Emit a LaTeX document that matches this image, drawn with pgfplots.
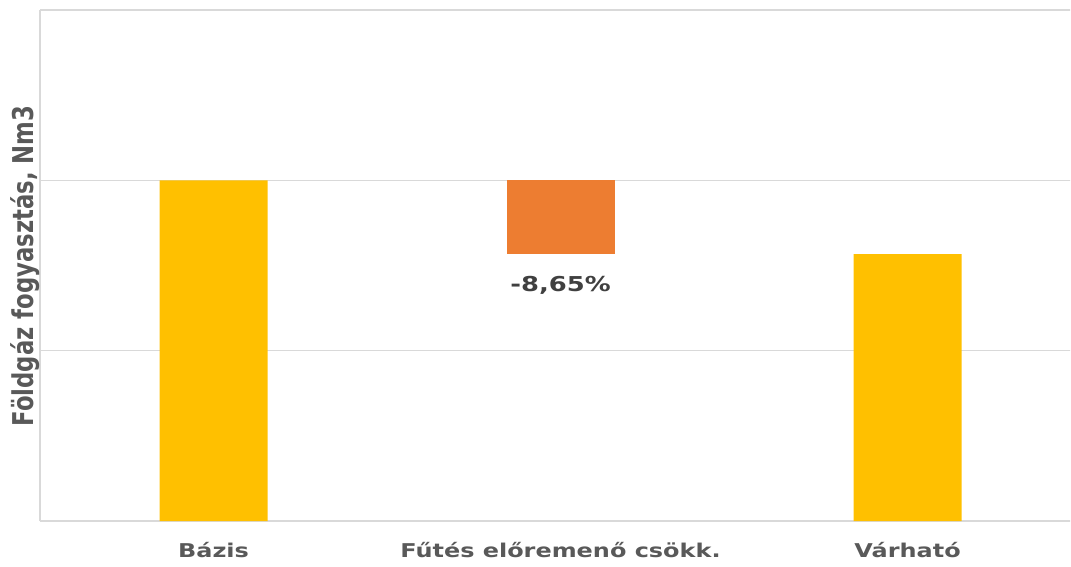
\documentclass[border=0pt]{standalone}
\usepackage{fontspec}
\setmainfont{DejaVu Sans}
\newfontfamily\widefont[FakeStretch=1.26]{DejaVu Sans}
\usepackage{graphicx}
\usepackage{pgfplots}
\pgfplotsset{compat=1.18}
\definecolor{barY}{HTML}{FFC000}
\definecolor{barO}{HTML}{ED7D31}
\definecolor{gridc}{HTML}{D9D9D9}
\definecolor{lab}{HTML}{595959}
\definecolor{dlab}{HTML}{404040}
\begin{document}
\begin{tikzpicture}[x=1pt,y=1pt]
\useasboundingbox (0,0) rectangle (1071,566);
\clip (0,0) rectangle (1070,566);
\begin{axis}[
  at={(40pt,45pt)}, anchor=south west,
  width=1040pt, height=511pt, scale only axis,
  xmin=-0.5, xmax=2.497, ymin=0, ymax=3,
  ybar stacked, bar width=108pt,
  xtick={0,1,2},
  xticklabels={Bázis, Fűtés előremenő csökk., Várható},
  xticklabel style={anchor=base, yshift=-36pt, font=\widefont\bfseries\fontsize{19}{22}\selectfont, text=lab},
  extra x ticks={-0.5}, extra x tick labels={},
  extra x tick style={xmajorgrids=true},
  ytick={0,1,2,3}, yticklabels={},
  ymajorgrids, grid style={gridc, line width=1.3pt},
  major tick length=0pt,
  axis line style={draw=none},
  clip=false,
]
\addplot[fill=barY, draw=none] coordinates {(0,2) (1,0) (2,1.5675)};
\addplot[fill=none, draw=none] coordinates {(0,0) (1,1.5675) (2,0)};
\addplot[fill=barO, draw=none] coordinates {(0,0) (1,0.4325) (2,0)};
\node[anchor=base, font=\widefont\bfseries\fontsize{20.5}{24}\selectfont, text=dlab] at (axis cs:1,1.350) {-8,65\%};
\end{axis}
\node[rotate=90, text=lab, font=\bfseries\fontsize{22.75}{26}\selectfont] at (25,300) {\scalebox{1}[1.26]{Földgáz fogyasztás, Nm3}};
\end{tikzpicture}
\end{document}
